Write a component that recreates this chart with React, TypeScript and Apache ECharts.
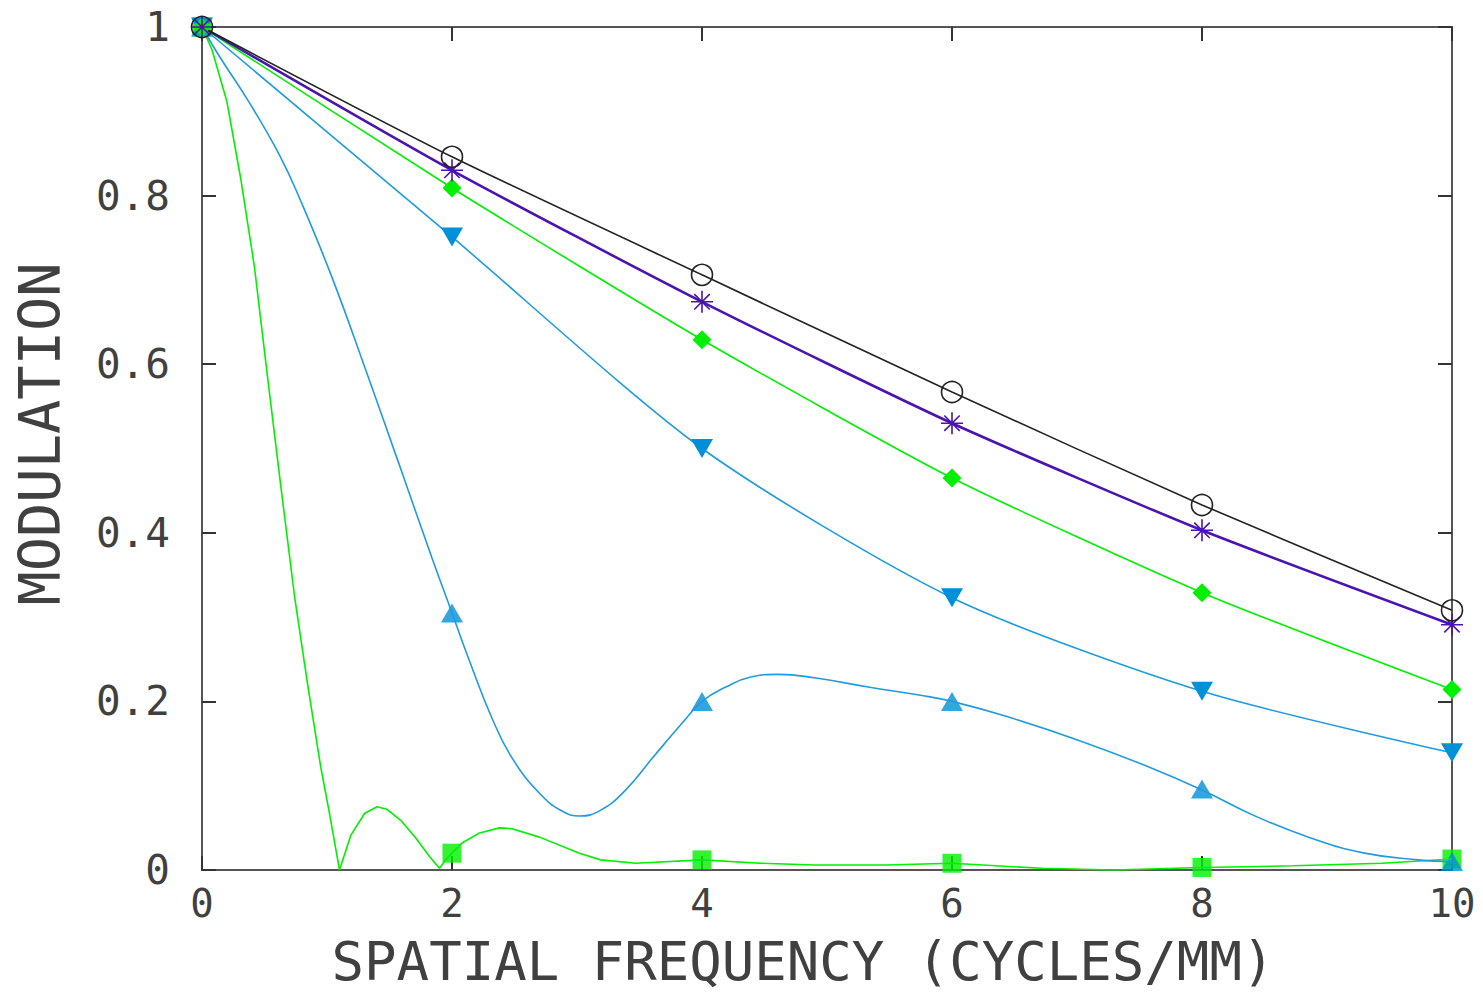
import React, { useEffect, useRef } from "react";
import * as echarts from "echarts";

// ---- data ----
const markX = [0, 2, 4, 6, 8, 10];
const circleY = [1, 0.846, 0.706, 0.567, 0.433, 0.308];
const starY = [1, 0.83, 0.674, 0.53, 0.403, 0.291];
const diamondY = [1, 0.809, 0.629, 0.465, 0.329, 0.214];
const downY = [1, 0.751, 0.5, 0.323, 0.212, 0.139];
const upY = [1, 0.305, 0.2, 0.2, 0.096, 0.01];
const squareY = [1, 0.02, 0.012, 0.008, 0.003, 0.013];

const upLineX = [0, 0.14, 0.38, 0.62, 0.78, 1.04, 1.31, 1.58, 1.84, 2.0, 2.14, 2.32, 2.48, 2.7, 2.88, 3.02, 3.19, 3.39, 3.61, 3.84, 4.0, 4.19, 4.39, 4.61, 4.9, 5.33, 5.76, 6.0, 6.44, 7.01, 7.58, 8.0, 8.44, 8.87, 9.3, 9.73, 10];
const upLineY = [1, 0.965, 0.91, 0.848, 0.797, 0.703, 0.593, 0.48, 0.37, 0.305, 0.248, 0.18, 0.133, 0.091, 0.07, 0.064, 0.071, 0.095, 0.134, 0.174, 0.2, 0.217, 0.229, 0.232, 0.228, 0.217, 0.207, 0.2, 0.182, 0.154, 0.122, 0.095, 0.063, 0.038, 0.02, 0.012, 0.01];

const sqLineX = [0, 0.08, 0.2, 0.31, 0.42, 0.52, 0.63, 0.74, 0.84, 0.95, 1.02, 1.1, 1.19, 1.3, 1.4, 1.48, 1.59, 1.71, 1.82, 1.9, 1.95, 2.0, 2.08, 2.22, 2.38, 2.48, 2.7, 3.02, 3.19, 3.47, 4.0, 4.47, 4.9, 5.47, 6.0, 6.72, 7.29, 8.0, 8.73, 9.44, 10];
const sqLineY = [1, 0.973, 0.911, 0.82, 0.715, 0.59, 0.456, 0.325, 0.225, 0.122, 0.067, 0.0, 0.041, 0.067, 0.075, 0.072, 0.059, 0.038, 0.016, 0.002, 0.012, 0.02, 0.032, 0.044, 0.05, 0.049, 0.039, 0.02, 0.012, 0.008, 0.012, 0.008, 0.006, 0.006, 0.008, 0.002, 0.0, 0.003, 0.005, 0.008, 0.013];

const xTicks = [0, 2, 4, 6, 8, 10];
const yTicks = [0, 0.2, 0.4, 0.6, 0.8, 1];

const xTitle = "SPATIAL FREQUENCY (CYCLES/MM)";
const yTitle = "MODULATION";

const BLACK = "#222222";
const PURPLE = "#4a14b0";
const GREEN = "#00f000";
const BLUE = "#0090d8";
const BLUE_LINE = "#1f9be0";
const TEXT = "#404040";

const FONT = "DejaVu Sans Mono";

const zip = (xs: number[], ys: number[]) => xs.map((x, i) => [x, ys[i]]);

const STAR = "path://M10 0 L10 20 M0 10 L20 10 M3 3 L17 17 M3 17 L17 3";

export default function App() {
  const ref = useRef<HTMLDivElement>(null);
  useEffect(() => {
    document.body.style.margin = "0";
    if (!ref.current) return;
    const chart = echarts.init(ref.current, null, { renderer: "svg" });
    const axisLine = { show: true, onZero: false, lineStyle: { color: "#555", width: 2 } };
    const axisTick = { show: true, inside: true, length: 14, lineStyle: { color: "#333", width: 2 } };
    const xMin = xTicks[0], xMax = xTicks[xTicks.length - 1];
    const yMin = yTicks[0], yMax = yTicks[yTicks.length - 1];
    const option: any = {
      animation: false,
      grid: { left: 202, right: 31, top: 27, bottom: 125 },
      xAxis: [
        {
          type: "value", min: xMin, max: xMax, interval: 2, position: "bottom",
          axisLine, axisTick,
          axisLabel: { margin: 14, fontFamily: FONT, fontSize: 39, color: TEXT },
          splitLine: { show: false },
        },
        {
          type: "value", min: xMin, max: xMax, interval: 2, position: "top",
          axisLine, axisTick, axisLabel: { show: false }, splitLine: { show: false },
        },
      ],
      yAxis: [
        {
          type: "value", min: yMin, max: yMax, interval: 0.2, position: "left",
          axisLine, axisTick,
          axisLabel: {
            margin: 32, fontFamily: FONT, fontSize: 41, color: TEXT,
            formatter: (v: number) => String(Math.round(v * 10) / 10),
          },
          splitLine: { show: false },
        },
        {
          type: "value", min: yMin, max: yMax, interval: 0.2, position: "right",
          axisLine, axisTick, axisLabel: { show: false }, splitLine: { show: false },
        },
      ],
      graphic: [
        {
          type: "text", x: 803, y: 961,
          style: { text: xTitle, font: `54px '${FONT}'`, fill: TEXT, textAlign: "center", textVerticalAlign: "middle" },
        },
        {
          type: "text", x: 40, y: 434, rotation: Math.PI / 2,
          style: { text: yTitle, font: `57px '${FONT}'`, fill: TEXT, textAlign: "center", textVerticalAlign: "middle" },
        },
      ],
      series: [
        {
          type: "line", name: "sq-line", data: zip(sqLineX, sqLineY), showSymbol: false,
          lineStyle: { color: GREEN, width: 1.6 }, silent: true, clip: false,
        },
        {
          type: "scatter", name: "sq", data: zip(markX, squareY), symbol: "rect", symbolSize: 19,
          itemStyle: { color: GREEN }, silent: true, clip: false,
        },
        {
          type: "line", name: "up-line", data: zip(upLineX, upLineY), showSymbol: false, smooth: 0.45,
          lineStyle: { color: BLUE_LINE, width: 1.6 }, silent: true, clip: false,
        },
        {
          type: "scatter", name: "up", data: zip(markX, upY), symbol: "triangle", symbolSize: [22, 19],
          itemStyle: { color: BLUE }, silent: true, clip: false,
        },
        {
          type: "line", name: "down", data: zip(markX, downY), smooth: 0.25,
          symbol: "triangle", symbolRotate: 180, symbolSize: [22, 19], showAllSymbol: true,
          lineStyle: { color: BLUE_LINE, width: 1.6 }, itemStyle: { color: BLUE }, silent: true, clip: false,
        },
        {
          type: "line", name: "diamond", data: zip(markX, diamondY), smooth: 0.2,
          symbol: "diamond", symbolSize: [19, 19], showAllSymbol: true,
          lineStyle: { color: GREEN, width: 1.6 }, itemStyle: { color: GREEN }, silent: true, clip: false,
        },
        {
          type: "line", name: "star", data: zip(markX, starY), smooth: 0.2,
          symbol: STAR, symbolSize: 22, showAllSymbol: true,
          lineStyle: { color: PURPLE, width: 2.6 },
          itemStyle: { color: "rgba(0,0,0,0)", borderColor: PURPLE, borderWidth: 1.6 },
          silent: true, clip: false,
        },
        {
          type: "line", name: "circle", data: zip(markX, circleY), smooth: 0.2,
          symbol: "circle", symbolSize: 21, showAllSymbol: true,
          lineStyle: { color: BLACK, width: 1.6 },
          itemStyle: { color: "rgba(0,0,0,0)", borderColor: BLACK, borderWidth: 1.6 },
          silent: true, clip: false,
        },
      ],
    };
    chart.setOption(option);
    return () => chart.dispose();
  }, []);
  return <div ref={ref} style={{ width: 1483, height: 995, background: "#fff" }} />;
}
